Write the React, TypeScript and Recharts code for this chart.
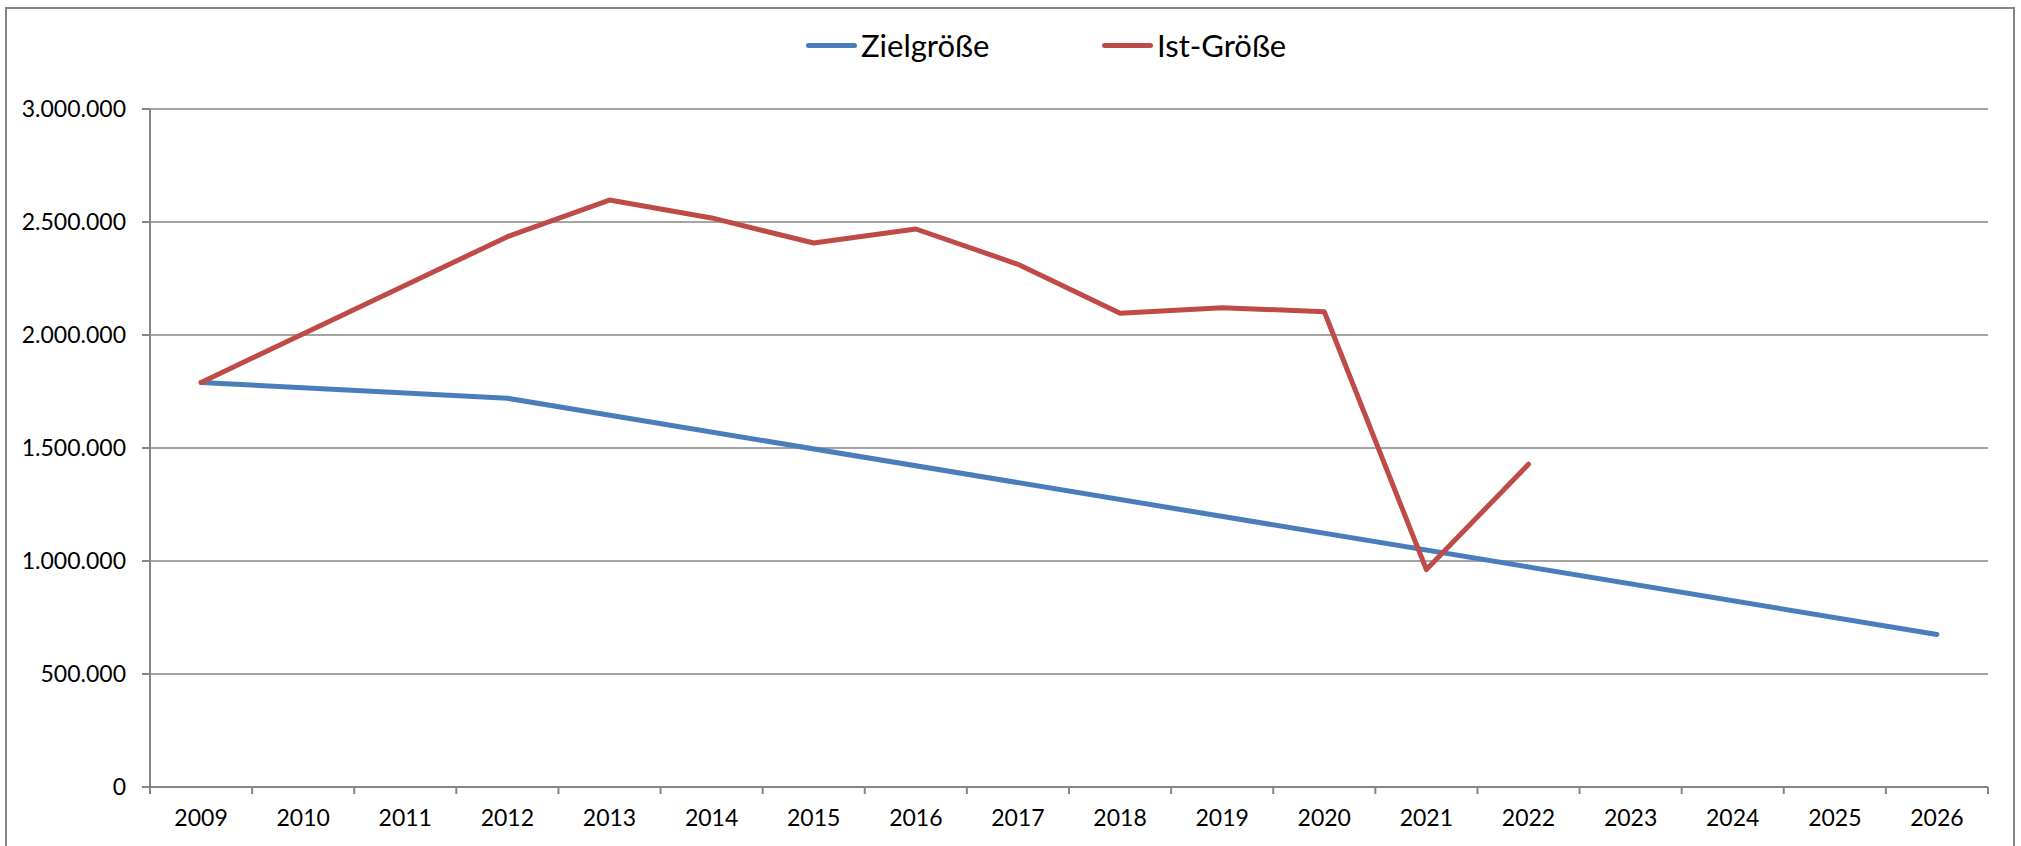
import React from 'react';
import { LineChart, Line, XAxis, YAxis, CartesianGrid } from 'recharts';

const years = [
  '2009', '2010', '2011', '2012', '2013', '2014', '2015', '2016', '2017',
  '2018', '2019', '2020', '2021', '2022', '2023', '2024', '2025', '2026',
];

// Zielgröße: only the corner values are given, the rest is connected straight
const zielValues = [
  1790000, null, null, 1720000, null, null, null, null, null,
  null, null, null, null, null, null, null, null, 675000,
];

const istValues = [
  1790000, null, null, 2435000, 2597000, 2518000, 2407000, 2469000, 2313000,
  2096000, 2121000, 2103000, 962000, 1428000, null, null, null, null,
];

const yTicks = [0, 500000, 1000000, 1500000, 2000000, 2500000, 3000000];

const seriesNames = { ziel: 'Zielgröße', ist: 'Ist-Größe' };

const data = years.map((year, i) => ({
  year,
  ziel: zielValues[i],
  ist: istValues[i],
}));

const WIDTH = 2021;
const HEIGHT = 846;
const PLOT_LEFT = 150;
const PLOT_RIGHT = 1988;
const PLOT_TOP = 109;
const PLOT_BOTTOM = 787;
const BAND = (PLOT_RIGHT - PLOT_LEFT) / years.length;

const BLUE = '#4A7EBB';
const RED = '#BE4B48';
const GRAY = '#868686';
const FONT = 'Lato, "Open Sans", sans-serif';

const formatDE = (v: number) => String(v).replace(/\B(?=(\d{3})+(?!\d))/g, '.');

function YearTick(props: any) {
  const { x, y, payload, index } = props;
  const half = BAND / 2;
  return (
    <g>
      <line x1={x - half} x2={x - half} y1={y} y2={y + 7} stroke={GRAY} strokeWidth={2} />
      {index === years.length - 1 && (
        <line x1={x + half} x2={x + half} y1={y} y2={y + 7} stroke={GRAY} strokeWidth={2} />
      )}
      <text x={x} y={y + 39} textAnchor="middle" fill="#000" fontSize={23} fontFamily={FONT}>
        {payload.value}
      </text>
    </g>
  );
}

function LegendItem({ left, color, label }: { left: number; color: string; label: string }) {
  return (
    <div
      style={{
        position: 'absolute',
        left,
        top: 25,
        height: 40,
        display: 'flex',
        alignItems: 'center',
      }}
    >
      <div style={{ width: 51, height: 5, borderRadius: 3, background: color, marginRight: 4 }} />
      <span style={{ fontFamily: FONT, fontSize: 31, color: '#000', lineHeight: '40px' }}>{label}</span>
    </div>
  );
}

export default function App() {
  return (
    <div
      style={{
        position: 'absolute',
        left: 0,
        top: 0,
        width: WIDTH,
        height: HEIGHT,
        overflow: 'hidden',
        background: '#fff',
      }}
    >
      <div
        style={{
          position: 'absolute',
          left: 5,
          top: 7,
          width: 2010,
          height: 900,
          boxSizing: 'border-box',
          border: `2px solid ${GRAY}`,
        }}
      />
      <LegendItem left={806} color={BLUE} label={seriesNames.ziel} />
      <LegendItem left={1102} color={RED} label={seriesNames.ist} />
      <div style={{ position: 'absolute', left: 0, top: 0 }}>
        <LineChart
          width={WIDTH}
          height={HEIGHT}
          data={data}
          margin={{ top: PLOT_TOP, right: WIDTH - PLOT_RIGHT, bottom: 0, left: 0 }}
        >
          <CartesianGrid vertical={false} stroke={GRAY} strokeWidth={1.6} />
          <XAxis
            dataKey="year"
            scale="band"
            height={HEIGHT - PLOT_BOTTOM}
            interval={0}
            tickLine={false}
            tickSize={0}
            tickMargin={0}
            axisLine={{ stroke: GRAY, strokeWidth: 2 }}
            tick={<YearTick />}
          />
          <YAxis
            width={PLOT_LEFT}
            domain={[0, 3000000]}
            ticks={yTicks}
            interval={0}
            tickFormatter={formatDE}
            tickSize={8}
            tickMargin={16}
            tickLine={{ stroke: GRAY, strokeWidth: 2 }}
            axisLine={{ stroke: GRAY, strokeWidth: 2 }}
            tick={{ fill: '#000', fontSize: 23, fontFamily: FONT }}
          />
          <Line
            type="linear"
            dataKey="ziel"
            name={seriesNames.ziel}
            stroke={BLUE}
            strokeWidth={5}
            strokeLinecap="round"
            strokeLinejoin="round"
            dot={false}
            connectNulls
            isAnimationActive={false}
          />
          <Line
            type="linear"
            dataKey="ist"
            name={seriesNames.ist}
            stroke={RED}
            strokeWidth={5}
            strokeLinecap="round"
            strokeLinejoin="round"
            dot={false}
            connectNulls
            isAnimationActive={false}
          />
        </LineChart>
      </div>
    </div>
  );
}
